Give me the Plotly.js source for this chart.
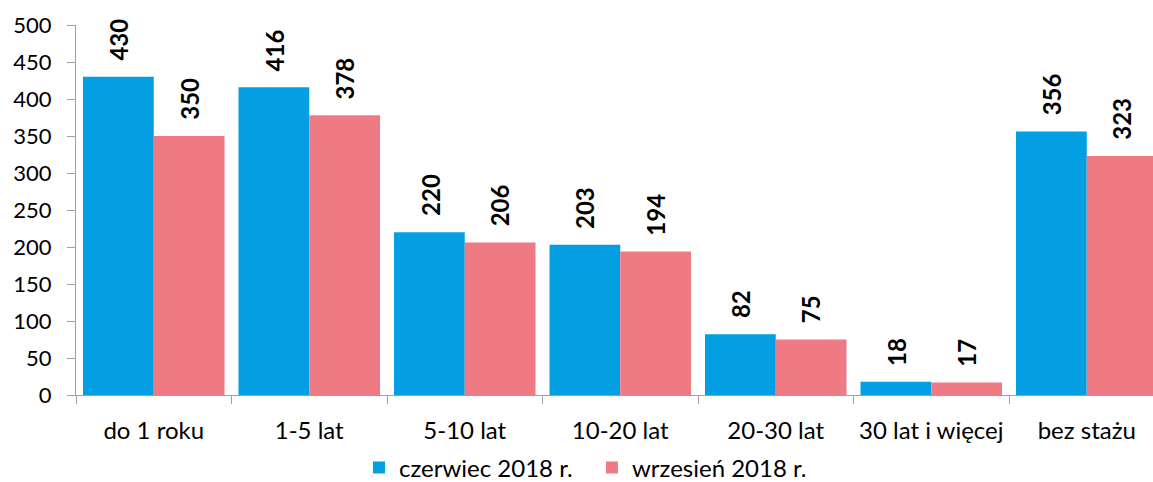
<!DOCTYPE html>
<html>
<head>
<meta charset="utf-8">
<script src="https://cdn.plot.ly/plotly-3.0.1.min.js"></script>
<style>html,body{margin:0;padding:0;background:#fff;}#chart{width:1153px;height:482px;}</style>
</head>
<body>
<div id="chart"></div>
<script>
var categories = ["do 1 roku", "1-5 lat", "5-10 lat", "10-20 lat", "20-30 lat", "30 lat i więcej", "bez stażu"];
var seriesNames = ["czerwiec 2018 r.", "wrzesień 2018 r."];
var czerwiec = [430, 416, 220, 203, 82, 18, 356];
var wrzesien = [350, 378, 206, 194, 75, 17, 323];
var yTicks = [0, 50, 100, 150, 200, 250, 300, 350, 400, 450, 500];

var colors = ["#039FE2", "#F07A84"];
var FONT = "Lato, 'Open Sans', sans-serif";

var traces = [
  {type: "bar", name: seriesNames[0], x: categories, y: czerwiec, marker: {color: colors[0]}, hoverinfo: "none"},
  {type: "bar", name: seriesNames[1], x: categories, y: wrzesien, marker: {color: colors[1]}, hoverinfo: "none"}
];

var annotations = [];
[czerwiec, wrzesien].forEach(function (vals, si) {
  vals.forEach(function (v, i) {
    annotations.push({
      x: categories[i], y: v, xref: "x", yref: "y",
      text: String(v), showarrow: false, textangle: -90,
      xanchor: "center", yanchor: "bottom",
      xshift: si === 0 ? -35 : 35, yshift: 14,
      font: {family: FONT, size: 24, color: "#000", weight: 700}
    });
  });
});

var layout = {
  width: 1153, height: 482,
  margin: {l: 76, r: 0, t: 25, b: 87, pad: 0, autoexpand: false},
  paper_bgcolor: "#fff", plot_bgcolor: "#fff",
  font: {family: FONT, size: 24, color: "#000"},
  barmode: "group", bargap: 0.09, bargroupgap: 0,
  showlegend: true,
  legend: {orientation: "h", xref: "container", yref: "container",
           x: 0.5134, xanchor: "center", y: 0.029, yanchor: "middle",
           entrywidth: 188, entrywidthmode: "pixels",
           font: {family: FONT, size: 24, color: "#000"}, traceorder: "normal", itemwidth: 30},
  xaxis: {
    type: "category", range: [-0.5, 6.426], fixedrange: true,
    showline: true, linecolor: "#A0A0A0", linewidth: 1,
    ticks: "outside", tickson: "boundaries", ticklen: 8, tickcolor: "#A0A0A0",
    ticklabelstandoff: 14, showgrid: false, zeroline: false,
    tickfont: {family: FONT, size: 24, color: "#000"}
  },
  yaxis: {
    range: [0, 500], tickvals: yTicks, ticktext: yTicks.map(String), fixedrange: true,
    showline: true, linecolor: "#A0A0A0", linewidth: 1,
    ticks: "outside", ticklen: 8, tickcolor: "#A0A0A0",
    ticklabelstandoff: 11, showgrid: false, zeroline: false,
    tickfont: {family: FONT, size: 22, color: "#000"}
  },
  annotations: annotations
};

Plotly.newPlot("chart", traces, layout, {staticPlot: true, displayModeBar: false});
</script>
</body>
</html>
